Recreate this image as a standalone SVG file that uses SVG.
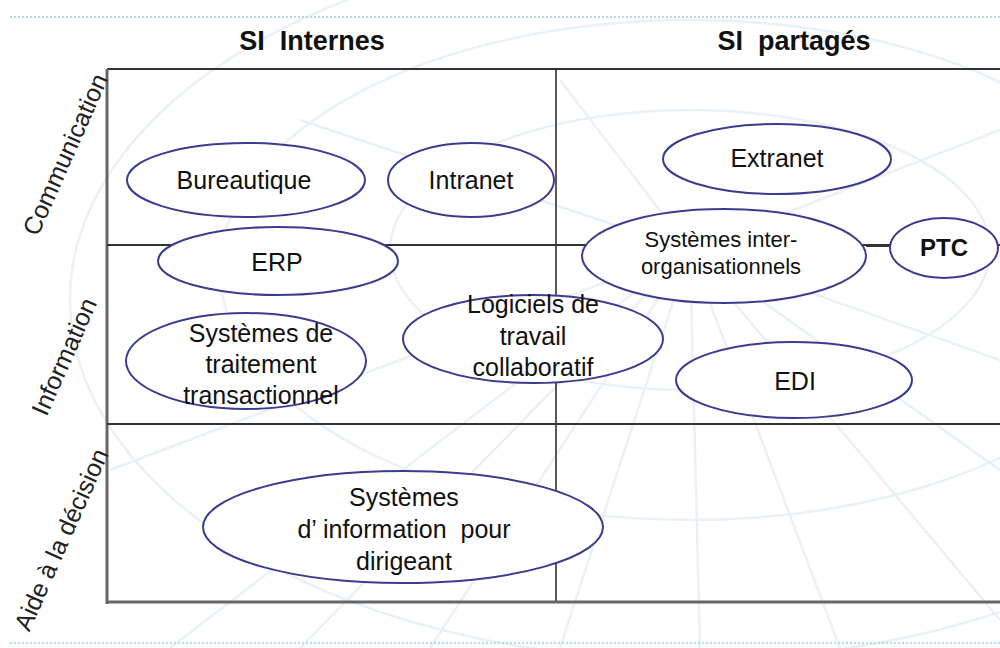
<svg xmlns="http://www.w3.org/2000/svg" width="1000" height="648" viewBox="0 0 1000 648">
<style>
.bg{fill:none;stroke:#e9f1f6;stroke-width:2.5}
.dot{stroke:#9fd0de;stroke-width:1.5;stroke-dasharray:2 2}
.node ellipse{fill:#fff;stroke:#3b3b8f;stroke-width:2}
.t{font-family:"Liberation Sans",Arial,sans-serif;font-size:25px;fill:#111;text-anchor:middle}
.s{font-size:22px}
.b{font-weight:bold;font-size:24px}
.h{font-family:"Liberation Sans",Arial,sans-serif;font-size:27px;font-weight:bold;fill:#111;text-anchor:middle;white-space:pre}
.ax{font-family:"Liberation Sans",Arial,sans-serif;font-size:25px;fill:#222;text-anchor:middle}
.g1{stroke:#333;stroke-width:2;fill:none}
.g2{stroke:#222;stroke-width:1.5;fill:none}
.g3{stroke:#666;stroke-width:3;fill:none}
</style>
<rect width="1000" height="648" fill="#fff"/>
<g id="background">
<ellipse class="bg" cx="690" cy="250" rx="300" ry="140"/>
<ellipse class="bg" cx="690" cy="270" rx="470" ry="250"/>
<ellipse class="bg" cx="690" cy="300" rx="620" ry="360"/>
<path class="bg" d="M690 250 L300 648 M690 250 L430 648 M690 250 L560 648 M690 250 L700 648 M690 250 L840 648 M690 250 L1000 620 M690 250 L1000 470 M690 250 L1000 360 M690 250 L170 648 M690 250 L110 470 M690 250 L300 120 M690 250 L560 80 M690 250 L1000 130"/>
</g>
<line class="dot" x1="10" y1="17" x2="1000" y2="17"/>
<line class="dot" x1="10" y1="643" x2="1000" y2="643"/>
<g id="grid">
<line class="g1" x1="107" y1="69" x2="1000" y2="69"/>
<line class="g3" x1="107" y1="69" x2="107" y2="604"/>
<line class="g2" x1="556" y1="69" x2="556" y2="603"/>
<line class="g1" x1="107" y1="245" x2="1000" y2="245"/>
<line class="g1" x1="107" y1="424" x2="1000" y2="424"/>
<line class="g3" x1="107" y1="602" x2="1000" y2="602"/>
</g>
<g id="connectors">
<line class="g1" x1="866" y1="246" x2="889" y2="246"/>
</g>
<text class="h" x="312" y="50">SI  Internes</text>
<text class="h" x="794" y="50">SI  partagés</text>
<text class="ax" transform="translate(73,158) rotate(-66)">Communication</text>
<text class="ax" transform="translate(72,360) rotate(-66)">Information</text>
<text class="ax" transform="translate(69,543) rotate(-66)">Aide à la décision</text>
<g id="bureautique" class="node"><ellipse cx="246" cy="180" rx="119" ry="37"/><text class="t" x="244" y="189">Bureautique</text></g>
<g id="intranet" class="node"><ellipse cx="471" cy="180" rx="83" ry="37"/><text class="t" x="471" y="189">Intranet</text></g>
<g id="extranet" class="node"><ellipse cx="777" cy="159" rx="114" ry="35"/><text class="t" x="777" y="167">Extranet</text></g>
<g id="erp" class="node"><ellipse cx="278" cy="261" rx="120" ry="34"/><text class="t" x="277" y="271">ERP</text></g>
<g id="sio" class="node"><ellipse cx="724" cy="256" rx="142" ry="47"/><text class="t s" x="721" y="247">Systèmes inter-</text><text class="t s" x="721" y="274">organisationnels</text></g>
<g id="ptc" class="node"><ellipse cx="944" cy="248" rx="54" ry="30"/><text class="t b" x="944" y="256">PTC</text></g>
<g id="stt" class="node"><ellipse cx="246" cy="361" rx="120" ry="48"/><text class="t" x="261" y="342">Systèmes de</text><text class="t" x="261" y="373">traitement</text><text class="t" x="261" y="404">transactionnel</text></g>
<g id="ltc" class="node"><ellipse cx="533" cy="339" rx="130" ry="44"/><text class="t" x="533" y="313">Logiciels de</text><text class="t" x="533" y="345">travail</text><text class="t" x="533" y="376">collaboratif</text></g>
<g id="edi" class="node"><ellipse cx="794" cy="380" rx="118" ry="38"/><text class="t" x="795" y="390">EDI</text></g>
<g id="sid" class="node"><ellipse cx="403" cy="527" rx="200" ry="56"/><text class="t" x="404" y="506">Systèmes</text><text class="t" x="404" y="538" style="white-space:pre">d’ information  pour</text><text class="t" x="404" y="570">dirigeant</text></g>
</svg>
